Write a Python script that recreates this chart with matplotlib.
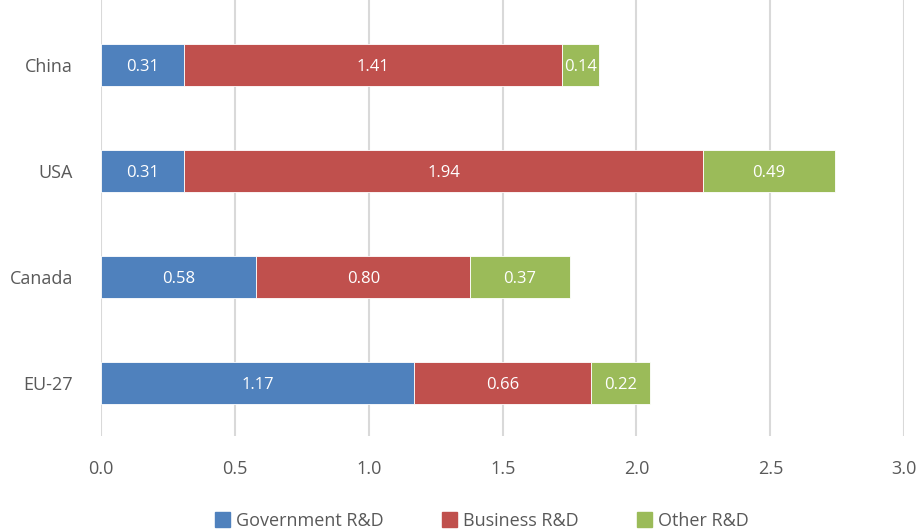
import numpy as np
import matplotlib.pyplot as plt
from matplotlib.patches import Patch

plt.rcParams['font.family'] = ['Open Sans', 'DejaVu Sans']

# R&D spending by source, % of GDP
regions = ['EU-27', 'Canada', 'USA', 'China']
government = [1.17, 0.58, 0.31, 0.31]
business = [0.66, 0.80, 1.94, 1.41]
other = [0.22, 0.37, 0.49, 0.14]

series = [('Government R&D', government, '#4F81BD'),
          ('Business R&D', business, '#C0504D'),
          ('Other R&D', other, '#9BBB59')]

fig = plt.figure(figsize=(9.18, 5.30), dpi=100)
ax = fig.add_axes([0.110, 0.177, 0.875, 0.823])

y = np.arange(len(regions))
left = np.zeros(len(regions))
for name, vals, color in series:
    vals = np.array(vals)
    bars = ax.barh(y, vals, left=left, height=0.4, color=color, label=name,
                   edgecolor='white', linewidth=0.6, zorder=3)
    for b, v in zip(bars, vals):
        ax.text(b.get_x() + b.get_width() / 2, b.get_y() + b.get_height() / 2 - 0.02,
                f'{v:.2f}', ha='center', va='center', color='white', fontsize=12, zorder=4)
    left += vals

ax.set_xlim(0, 3.0)
ax.set_ylim(-0.5, 3.61)
ax.set_xticks(np.arange(0, 3.01, 0.5))
ax.set_xticklabels([f'{t:.1f}' for t in np.arange(0, 3.01, 0.5)])
ax.set_yticks(y)
ax.set_yticklabels(regions)
ax.grid(axis='x', color='#D9D9D9', linewidth=1.5, zorder=0)
for s in ax.spines.values():
    s.set_visible(False)
ax.tick_params(length=0, labelsize=13, colors='#595959')
ax.tick_params(axis='x', pad=17)
ax.tick_params(axis='y', pad=20)

handles = [Patch(color=c, label=n) for n, _, c in series]
fig.legend(handles=handles, loc='lower center', ncol=3, frameon=False,
           bbox_to_anchor=(0.525, -0.03), fontsize=13, labelcolor='#595959',
           handlelength=0.85, handleheight=0.85, handletextpad=0.35, columnspacing=3.2)

fig.savefig('out.png', dpi=100)
